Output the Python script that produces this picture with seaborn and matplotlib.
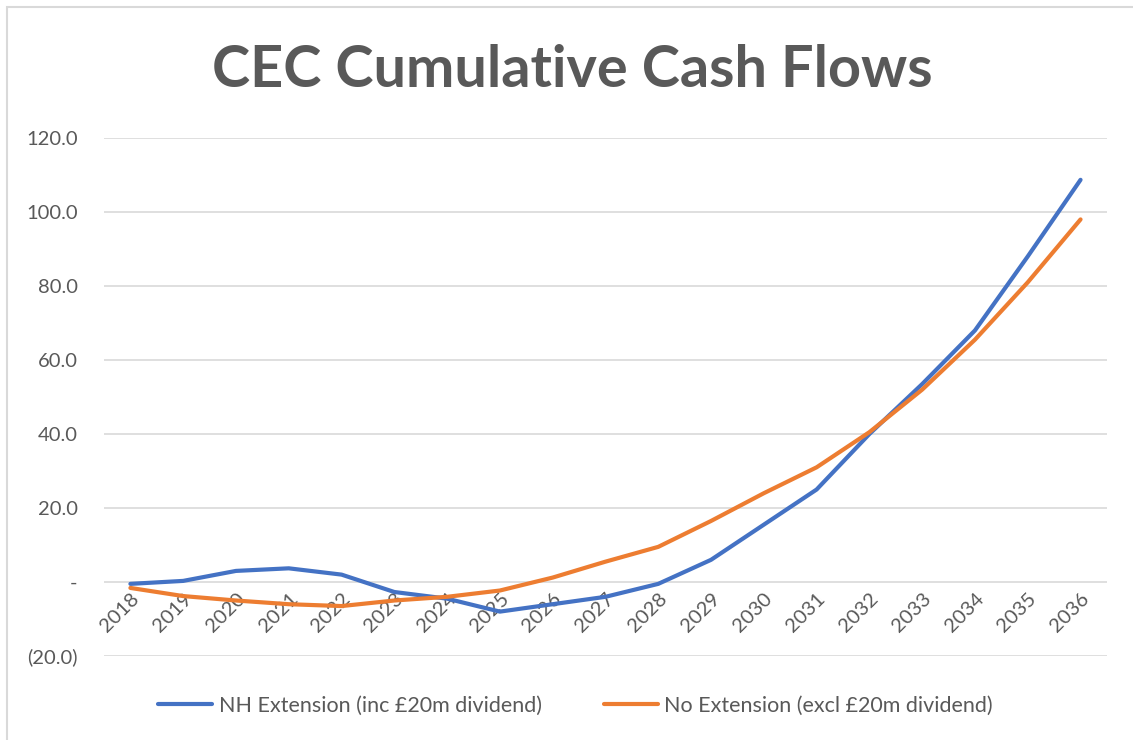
import matplotlib
matplotlib.use("Agg")
import matplotlib.pyplot as plt
import seaborn as sns
import pandas as pd
from matplotlib.patches import Rectangle

years = [str(y) for y in range(2018, 2037)]
nh_extension = [-0.5, 0.3, 3.0, 3.7, 2.0, -2.7, -4.5, -8.0, -6.0, -4.0, -0.5,
                6.0, 15.5, 25.0, 40.0, 53.5, 68.0, 88.0, 108.7]
no_extension = [-1.6, -3.8, -5.0, -6.0, -6.5, -5.0, -4.0, -2.3, 1.2, 5.5, 9.5,
                16.5, 24.0, 31.0, 40.5, 52.0, 65.5, 81.0, 98.0]
series_names = ["NH Extension (inc £20m dividend)", "No Extension (excl £20m dividend)"]
y_ticks = [-20, 0, 20, 40, 60, 80, 100, 120]
y_labels = ["(20.0)", "-", "20.0", "40.0", "60.0", "80.0", "100.0", "120.0"]

df = pd.DataFrame({
    "year": years * 2,
    "idx": list(range(len(years))) * 2,
    "value": nh_extension + no_extension,
    "series": [series_names[0]] * len(years) + [series_names[1]] * len(years),
})

sns.set_style("white")
plt.rcParams["font.family"] = ["Lato", "DejaVu Sans"]

fig = plt.figure(figsize=(11.33, 7.4), dpi=100)
ax = fig.add_axes([0.0918, 0.1135, 0.8852, 0.70])

sns.lineplot(data=df, x="idx", y="value", hue="series",
             palette=["#4472C4", "#ED7D31"], linewidth=3, ax=ax, legend=True)

ax.set_xlim(-0.5, len(years) - 0.5)
ax.set_ylim(-20, 120)
ax.set_yticks(y_ticks)
ax.set_yticklabels(y_labels)
ax.yaxis.grid(True, color="#D9D9D9", linewidth=1.2)
ax.set_axisbelow(True)
for s in ["left", "right", "top"]:
    ax.spines[s].set_visible(False)
ax.spines["bottom"].set_position(("data", 0))
ax.spines["bottom"].set_visible(False)
ax.set_xticks(range(len(years)))
ax.set_xticklabels(years, rotation=45, ha="right", va="top", rotation_mode="anchor")
ax.tick_params(axis="x", length=0, pad=6, labelsize=14.5, colors="#595959")
ax.tick_params(axis="y", length=0, pad=19, labelsize=14.5, colors="#595959")
ax.set_xlabel("")
ax.set_ylabel("")

leg = ax.legend(loc="center", ncol=2, frameon=False, fontsize=15.5,
                handlelength=2.5, columnspacing=2.9, handletextpad=0.3)
leg.set_bbox_to_anchor((0.508, 0.046), transform=fig.transFigure)
for t in leg.get_texts():
    t.set_color("#595959")
for l in leg.get_lines():
    l.set_linewidth(3)

fig.text(0.505, 0.905, "CEC Cumulative Cash Flows", ha="center", va="center",
         fontsize=41.5, fontweight="bold", color="#595959")

fig.patches.append(Rectangle((0.0062, -0.5), 1.1, 1.4905, transform=fig.transFigure,
                             fill=False, edgecolor="#D9D9D9", linewidth=1.5))

fig.savefig("out.png", dpi=100)
